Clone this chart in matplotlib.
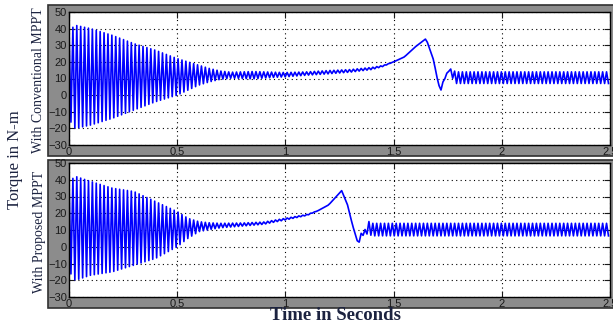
import numpy as np
import matplotlib
matplotlib.use("Agg")
import matplotlib.pyplot as plt
from matplotlib.patches import Rectangle

W, H = 613, 322

# ---- data (time in s, torque in N-m) ----
# upper / lower envelope of the torque trace; where hi == lo the trace is a plain line
conv_t  = [0.0, 0.01, 0.03, 0.1, 0.2, 0.3, 0.4, 0.5, 0.6, 0.65, 0.7, 0.75, 0.85, 0.95, 1.0,
           1.1, 1.2, 1.3, 1.4, 1.45, 1.5, 1.55, 1.6, 1.65, 1.685, 1.70, 1.717, 1.73,
           1.745, 1.76, 1.78, 1.8, 2.5]
conv_hi = [40, 40, 42, 40, 36, 31, 27, 22, 18, 16, 14.5, 13.8, 14.2, 13.8, 13.6,
           14.0, 14.8, 15.4, 16.7, 17.8, 20, 23, 29, 34, 21, 11, 2, 9,
           13, 16, 14.5, 14, 14]
conv_lo = [0, -18, -20, -18, -14, -9, -4, 0, 6, 8, 9.5, 10.2, 9.8, 10.7, 11.0,
           12.0, 12.8, 13.8, 15.4, 17.2, 20, 23, 29, 34, 21, 11, 2, 9,
           11, 16, 7, 7, 7]

prop_t  = [0.0, 0.01, 0.03, 0.1, 0.2, 0.3, 0.4, 0.5, 0.55, 0.6, 0.65, 0.7, 0.8, 0.9,
           1.0, 1.1, 1.15, 1.2, 1.26, 1.287, 1.31, 1.338, 1.35, 1.365, 1.38, 1.4, 2.5]
prop_hi = [40, 40, 42, 39, 35, 33, 27, 21, 17, 15, 14.3, 14.0, 14.2, 14.8,
           17.0, 19.3, 21.5, 25, 33.5, 25, 13, 1, 8, 9, 15.5, 14, 14]
prop_lo = [0, -18, -20, -17, -15, -11, -7, 0, 5, 9, 10.3, 11.3, 12.3, 13.4,
           16.0, 18.7, 21.5, 25, 33.5, 25, 13, 1, 8, 6, 8, 6.5, 6.5]

RIPPLE_PERIOD = 0.018   # s, spacing of the oscillation bars
T_END = 2.5

x_ticks = [0, 0.5, 1, 1.5, 2, 2.5]
x_ticklabels = ["0", "0.5", "1", "1.5", "2", "2.5"]
y_ticks = [-30, -20, -10, 0, 10, 20, 30, 40, 50]


def zigzag(t_keys, hi, lo):
    # trace alternates between the read envelopes every half ripple period
    tk = np.arange(0.0, T_END + 1e-9, RIPPLE_PERIOD / 2)
    up = np.interp(tk, t_keys, hi)
    dn = np.interp(tk, t_keys, lo)
    y = np.where(np.arange(len(tk)) % 2 == 0, up, dn)
    return tk, y


def fx(px):
    return px / W


def fy(py):
    return 1 - py / H


fig = plt.figure(figsize=(W / 100, H / 100), dpi=100)
fig.patch.set_facecolor("white")

gray = "#8c8c8c"
# scope-style grey frames behind both panels
for y0, y1 in [(5, 156), (160, 308)]:
    fig.patches.append(Rectangle((fx(48), fy(y1)), fx(W + 5) - fx(48), fy(y0) - fy(y1),
                                 transform=fig.transFigure, facecolor=gray,
                                 edgecolor="#303030", linewidth=1.2, zorder=-5))

panels = [
    (conv_t, conv_hi, conv_lo, 12, 145),
    (prop_t, prop_hi, prop_lo, 163, 297),
]

for t_keys, hi, lo, top, bot in panels:
    ax = fig.add_axes([fx(69), fy(bot), fx(610) - fx(69), fy(top) - fy(bot)])
    ax.set_zorder(2)
    t, y = zigzag(t_keys, hi, lo)
    ax.plot(t, y, color="#0000ff", linewidth=1.2)
    ax.set_xlim(0, T_END)
    ax.set_ylim(-30, 50)
    ax.set_xticks(x_ticks)
    ax.set_xticklabels(x_ticklabels)
    ax.set_yticks(y_ticks)
    ax.grid(True, linestyle=(0, (1, 3)), color="black", linewidth=0.8)
    ax.tick_params(direction="in", top=True, right=True, length=4, width=0.8,
                   labelsize=8, colors="#1a1a1a", pad=1.5)
    for lab in ax.get_xticklabels() + ax.get_yticklabels():
        lab.set_family("Liberation Sans")
    for s in ax.spines.values():
        s.set_linewidth(1.0)
        s.set_color("black")

txt = "#1c2340"
fig.text(fx(15), fy(160), "Torque in N-m", rotation=90, ha="center", va="center",
         family="Liberation Serif", fontsize=12, color=txt)
fig.text(fx(39), fy(80), "With Conventional MPPT", rotation=90, ha="center", va="center",
         family="Liberation Serif", fontsize=10, color=txt)
fig.text(fx(39), fy(232), "With Proposed MPPT", rotation=90, ha="center", va="center",
         family="Liberation Serif", fontsize=10, color=txt)
fig.text(fx(336), fy(315), "Time in Seconds", ha="center", va="center",
         family="Liberation Serif", fontsize=13.5, fontweight="bold", color=txt)

fig.savefig("out.png", dpi=100)
